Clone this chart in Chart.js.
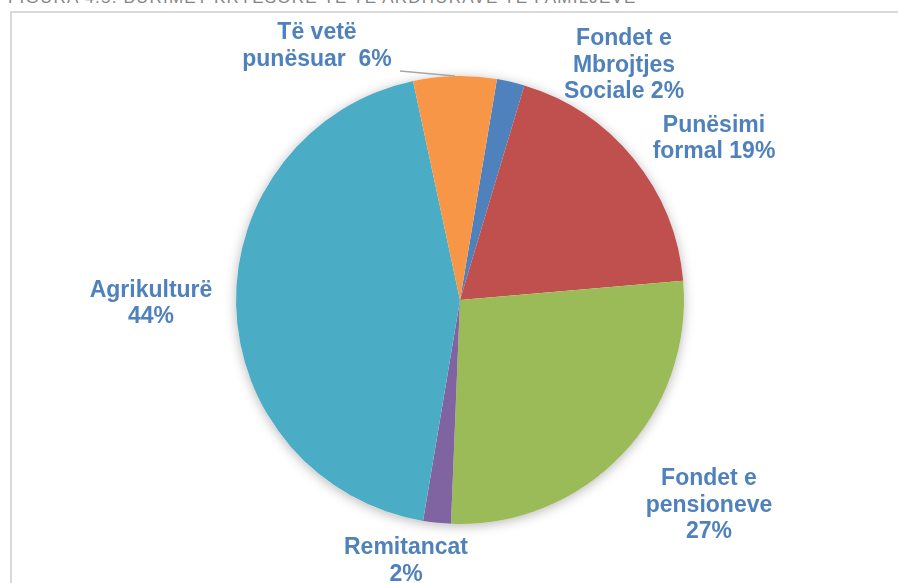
<!DOCTYPE html>
<html>
<head>
<meta charset="utf-8">
<script src="https://cdn.jsdelivr.net/npm/chart.js@4.4.0/dist/chart.umd.min.js"></script>
<style>
  html, body { margin: 0; padding: 0; background: #ffffff; width: 898px; height: 583px; overflow: hidden; }
  #caption { position: absolute; left: 8px; top: -12px; font: 17px 'Liberation Sans', Arial, sans-serif; color: #858585; white-space: nowrap; letter-spacing: 1.2px; }
  #frame { position: absolute; left: 10px; top: 11px; width: 900px; height: 600px; border-left: 2px solid #d9d9d9; border-top: 2px solid #d9d9d9; }
  #c { position: absolute; left: 0; top: 0; }
</style>
</head>
<body>
<div id="caption">FIGURA 4.5: BURIMET KRYESORE TË TË ARDHURAVE TË FAMILJEVE</div>
<div id="frame"></div>
<canvas id="c" width="898" height="583"></canvas>
<script>
// Income sources, share of households (%)
const categories = ['Fondet e Mbrojtjes Sociale', 'Punësimi formal', 'Fondet e pensioneve', 'Remitancat', 'Agrikulturë', 'Të vetë punësuar'];
const shares = [2, 19, 27, 2, 44, 6];
const sliceColors = ['#4F81BD', '#C0504D', '#9BBB59', '#8064A2', '#4BACC6', '#F79646'];

// How each data label wraps; {v} is replaced by the share
const labelWrap = [
  ['Fondet e', 'Mbrojtjes', 'Sociale {v}'],
  ['Punësimi', 'formal {v}'],
  ['Fondet e', 'pensioneve', '{v}'],
  ['Remitancat', '{v}'],
  ['Agrikulturë', '{v}'],
  ['Të vetë', 'punësuar  {v}']
];
// First-line baseline centre of each label
const labelAnchor = [[624, 45], [714, 131.5], [709, 485], [406, 554], [151, 296.5], [317, 39]];
// Labels connected to their slice with a leader line (start point)
const leaderStart = { 5: [400, 71] };

const LABEL_FONT = 'bold 23px "Liberation Sans", Arial, sans-serif';
const LABEL_COLOR = '#4F81BD';
const LINE_H = 26.5;

const pieShadow = {
  id: 'pieShadow',
  beforeDatasetsDraw(chart) {
    const arc = chart.getDatasetMeta(0).data[0];
    if (!arc) return;
    const ctx = chart.ctx;
    ctx.save();
    ctx.shadowColor = 'rgba(0,0,0,0.28)';
    ctx.shadowBlur = 12;
    ctx.shadowOffsetY = 2;
    ctx.fillStyle = '#ffffff';
    ctx.beginPath();
    ctx.arc(arc.x, arc.y, arc.outerRadius, 0, Math.PI * 2);
    ctx.fill();
    ctx.restore();
  }
};

const sliceLabels = {
  id: 'sliceLabels',
  afterDatasetsDraw(chart) {
    const ctx = chart.ctx;
    const arcs = chart.getDatasetMeta(0).data;
    ctx.save();
    // leader lines
    Object.keys(leaderStart).forEach(k => {
      const a = arcs[k];
      const mid = (a.startAngle + a.endAngle) / 2;
      const ex = a.x + Math.cos(mid) * a.outerRadius;
      const ey = a.y + Math.sin(mid) * a.outerRadius;
      ctx.strokeStyle = '#A6A6A6';
      ctx.lineWidth = 1.5;
      ctx.beginPath();
      ctx.moveTo(leaderStart[k][0], leaderStart[k][1]);
      ctx.lineTo(ex, ey);
      ctx.stroke();
    });
    ctx.font = LABEL_FONT;
    ctx.fillStyle = LABEL_COLOR;
    ctx.textAlign = 'center';
    ctx.textBaseline = 'alphabetic';
    labelWrap.forEach((lines, i) => {
      const [x, y] = labelAnchor[i];
      lines.forEach((t, j) => {
        ctx.fillText(t.replace('{v}', shares[i] + '%'), x, y + j * LINE_H);
      });
    });
    ctx.restore();
  }
};

new Chart(document.getElementById('c'), {
  type: 'pie',
  data: {
    labels: categories,
    datasets: [{
      data: shares,
      backgroundColor: sliceColors,
      borderWidth: 0
    }]
  },
  options: {
    responsive: false,
    animation: false,
    devicePixelRatio: 1,
    rotation: 9.5,
    layout: { padding: { left: 236, top: 76, right: 214, bottom: 59 } },
    plugins: {
      legend: { display: false },
      tooltip: { enabled: false },
      title: { display: false }
    }
  },
  plugins: [pieShadow, sliceLabels]
});
</script>
</body>
</html>
